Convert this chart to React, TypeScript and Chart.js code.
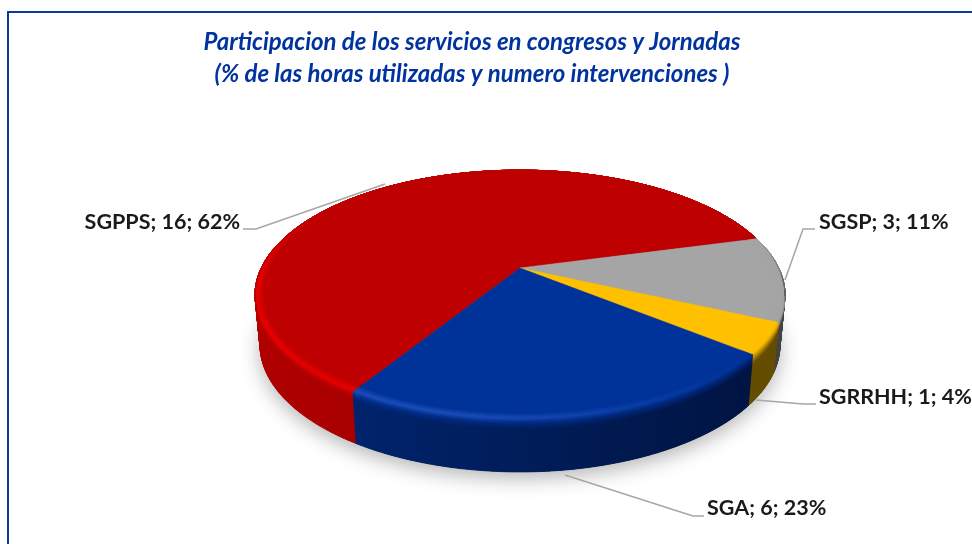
import React, { useEffect, useRef } from "react";
import { Chart, registerables } from "chart.js";

Chart.register(...registerables);

const categories = ["SGPPS", "SGSP", "SGRRHH", "SGA"];
const counts = [16, 3, 1, 6];
const percents = [62, 11, 4, 23];
const titleLines = [
  "Participacion de los servicios en congresos y Jornadas",
  "(% de las horas utilizadas y numero intervenciones )",
];

type RGB = [number, number, number];
const baseColors: RGB[] = [[190, 0, 0], [165, 165, 165], [255, 192, 0], [0, 51, 153]];
const lightColors: RGB[] = [[232, 0, 0], [185, 185, 185], [255, 200, 30], [30, 80, 190]];
const wallLeft: RGB[] = [[176, 0, 0], [90, 90, 90], [112, 84, 0], [0, 42, 124]];
const wallRight: RGB[] = [[148, 0, 0], [66, 66, 66], [100, 76, 0], [0, 20, 64]];

const leaders = [
  { pts: [[243, 229], [256, 229], [385, 184]], x: 240, y: 222, align: "right" },
  { pts: [[785, 280], [803, 229], [815, 229]], x: 819, y: 222, align: "left" },
  { pts: [[756, 400], [803, 404], [816, 404]], x: 819, y: 397, align: "left" },
  { pts: [[565, 475], [693, 516], [704, 516]], x: 707, y: 508, align: "left" },
];

const TOP = { cx: 520, cy: 268, rx: 258.7, ry: 119, k: 0.216 };
const BOTTOM = { cx: 520, cy: 317.6, rx: 253.8, ry: 121, k: 0.216 };

const proj = (p: typeof TOP, t: number, r = 1): [number, number] => {
  const u = Math.sin(t) * r;
  const v = -Math.cos(t) * r;
  const d = 1 - p.k * v;
  return [p.cx + (p.rx * u) / d, p.cy + (p.ry * v) / d];
};
const clamp = (x: number) => Math.max(0, Math.min(1, x));
const mix = (a: RGB, b: RGB, s: number): RGB => [
  a[0] + (b[0] - a[0]) * s,
  a[1] + (b[1] - a[1]) * s,
  a[2] + (b[2] - a[2]) * s,
];
const css = (c: RGB) => `rgb(${c[0] | 0},${c[1] | 0},${c[2] | 0})`;

const wallColor = (i: number, x: number): RGB => mix(wallLeft[i], wallRight[i], clamp((x - 255) / 530) ** 0.8);

const pie3d = {
  id: "pie3d",
  beforeDatasetDraw(chart: any) {
    const ctx: CanvasRenderingContext2D = chart.ctx;
    const arcs = chart.getDatasetMeta(0).data;
    const DEG = Math.PI / 360;

    // soft ground shadow
    ctx.save();
    ctx.shadowColor = "rgba(0,0,0,0.3)";
    ctx.shadowBlur = 20;
    ctx.shadowOffsetY = 6;
    ctx.fillStyle = "#999";
    ctx.beginPath();
    for (let a = 0; a < 720; a++) {
      const [x, y] = proj(BOTTOM, a * DEG);
      a ? ctx.lineTo(x, y) : ctx.moveTo(x, y);
    }
    ctx.closePath();
    ctx.fill();
    ctx.restore();

    // side wall: strips per slice for the outline, then one smooth shape over them
    arcs.forEach((arc: any, i: number) => {
      const s = arc.startAngle + Math.PI / 2;
      const e = arc.endAngle + Math.PI / 2;
      const n = Math.ceil((e - s) / DEG);
      const g = ctx.createLinearGradient(255, 0, 785, 0);
      for (let q = 0; q <= 10; q++) g.addColorStop(q / 10, css(wallColor(i, 255 + 53 * q)));
      ctx.fillStyle = g;
      ctx.strokeStyle = g;
      ctx.lineWidth = 0.8;
      for (let j = 0; j < n; j++) {
        const t0 = s + ((e - s) * j) / n;
        const t1 = s + ((e - s) * (j + 1)) / n;
        const a = proj(TOP, t0);
        const b = proj(TOP, t1);
        const c = proj(BOTTOM, t1);
        const d = proj(BOTTOM, t0);
        ctx.beginPath();
        ctx.moveTo(a[0], a[1]);
        ctx.lineTo(b[0], b[1]);
        ctx.lineTo(c[0], c[1]);
        ctx.lineTo(d[0], d[1]);
        ctx.closePath();
        ctx.fill();
        ctx.stroke();
      }
      ctx.beginPath();
      for (let j = 0; j <= n; j++) {
        const [x, y] = proj(TOP, s + ((e - s) * j) / n);
        j ? ctx.lineTo(x, y) : ctx.moveTo(x, y);
      }
      for (let j = n; j >= 0; j--) {
        const [x, y] = proj(BOTTOM, s + ((e - s) * j) / n);
        ctx.lineTo(x, y);
      }
      ctx.closePath();
      ctx.fill();
    });

    // top faces
    arcs.forEach((arc: any, i: number) => {
      const s = arc.startAngle + Math.PI / 2;
      const e = arc.endAngle + Math.PI / 2;
      const n = Math.ceil((e - s) / DEG);
      ctx.fillStyle = css(baseColors[i]);
      ctx.strokeStyle = css(baseColors[i]);
      ctx.lineWidth = 0.5;
      ctx.beginPath();
      ctx.moveTo(TOP.cx, TOP.cy);
      for (let j = 0; j <= n; j++) {
        const [x, y] = proj(TOP, s + ((e - s) * j) / n);
        ctx.lineTo(x, y);
      }
      ctx.closePath();
      ctx.fill();
      ctx.stroke();
    });

    // rounded edge: strips over the rim of the top and the upper part of the wall
    const LEVELS = 14;
    const R0 = 0.955;
    const WALL_PART = 0.2;
    const at = (t: number, w: number, v: number): [number, number] => {
      if (w <= 0.5) return proj(TOP, t, R0 + (1 - R0) * (w / 0.5));
      const f = ((w - 0.5) / 0.5) * WALL_PART * clamp((v - 0.22) / 0.2);
      const a = proj(TOP, t);
      const b = proj(BOTTOM, t);
      return [a[0] + (b[0] - a[0]) * f, a[1] + (b[1] - a[1]) * f];
    };
    arcs.forEach((arc: any, i: number) => {
      const s = arc.startAngle + Math.PI / 2;
      const e = arc.endAngle + Math.PI / 2;
      const n = Math.ceil((e - s) / DEG);
      for (let j = 0; j < n; j++) {
        const t0 = s + ((e - s) * j) / n;
        const t1 = s + ((e - s) * (j + 1)) / n;
        const u = Math.sin(t0);
        const v = -Math.cos(t0);
        const v1 = -Math.cos(t1);
        const front = clamp((v + 0.25) / 0.45);
        const hi = clamp((v + 0.55) / 0.6) * clamp((0.75 - u) / 0.9);
        for (let l = 0; l < LEVELS; l++) {
          const w0 = l / LEVELS;
          const w1 = (l + 1) / LEVELS;
          const q = (l + 0.5) / LEVELS;
          const a = at(t0, w0, v);
          const b = at(t1, w0, v1);
          const c = at(t1, w1, v1);
          const d = at(t0, w1, v);
          const wall = wallColor(i, a[0]);
          const peak = clamp(1 - Math.abs(q - 0.42) / 0.32);
          let col = mix(baseColors[i], lightColors[i], peak * hi);
          col = mix(col, wall, front * clamp((q - 0.45) / 0.55));
          const cs = css(col);
          ctx.fillStyle = cs;
          ctx.strokeStyle = cs;
          ctx.lineWidth = 0.6;
          ctx.beginPath();
          ctx.moveTo(a[0], a[1]);
          ctx.lineTo(b[0], b[1]);
          ctx.lineTo(c[0], c[1]);
          ctx.lineTo(d[0], d[1]);
          ctx.closePath();
          ctx.fill();
          ctx.stroke();
        }
      }
    });
    return false;
  },
  afterDatasetsDraw(chart: any) {
    const ctx: CanvasRenderingContext2D = chart.ctx;
    ctx.save();
    leaders.forEach((l, i) => {
      ctx.strokeStyle = "#a6a6a6";
      ctx.lineWidth = 1.5;
      ctx.beginPath();
      l.pts.forEach((p, j) => (j ? ctx.lineTo(p[0], p[1]) : ctx.moveTo(p[0], p[1])));
      ctx.stroke();
      ctx.fillStyle = "#1a1a1a";
      ctx.font = "bold 21.5px Lato";
      ctx.textAlign = l.align as CanvasTextAlign;
      ctx.textBaseline = "middle";
      ctx.fillText(`${categories[i]}; ${counts[i]}; ${percents[i]}%`, l.x, l.y);
    });
    ctx.restore();
  },
};

export default function App() {
  const ref = useRef<HTMLCanvasElement>(null);
  useEffect(() => {
    const chart = new Chart(ref.current!, {
      type: "pie",
      data: {
        labels: categories,
        datasets: [{ data: percents, backgroundColor: baseColors.map(css), borderWidth: 0 }],
      },
      options: {
        responsive: false,
        animation: false,
        rotation: -148.2,
        layout: { padding: { right: 28 } },
        plugins: {
          legend: { display: false },
          tooltip: { enabled: false },
          title: {
            display: true,
            text: titleLines,
            color: "#0033a0",
            font: { family: "Lato", size: 24, style: "italic", weight: "bold", lineHeight: 1.3 },
            padding: { top: 27, bottom: 10 },
          },
        },
      },
      plugins: [pie3d],
    } as any);
    return () => chart.destroy();
  }, []);
  return (
    <div style={{ position: "fixed", left: 0, top: 0, width: 972, height: 544, background: "#fff", overflow: "hidden" }}>
      <div style={{ position: "absolute", left: 7, top: 11, right: -4, bottom: -4, border: "2px solid #0a3a9e" }} />
      <canvas ref={ref} width={972} height={544} style={{ position: "absolute", left: 0, top: 0 }} />
    </div>
  );
}
